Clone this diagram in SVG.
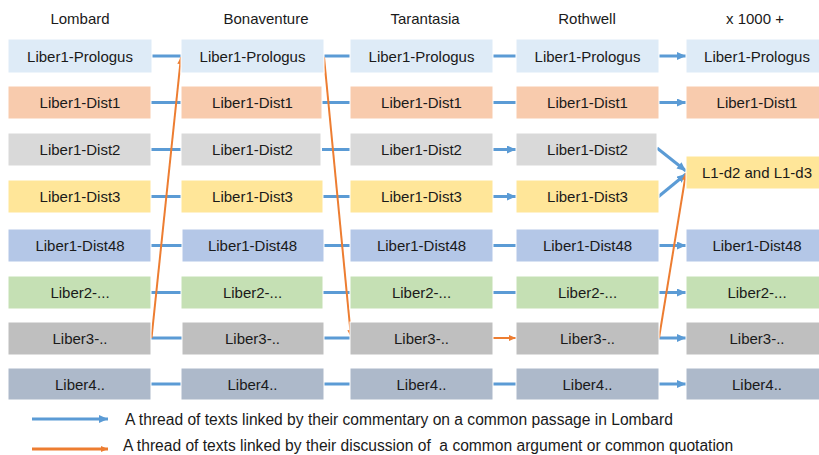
<svg xmlns="http://www.w3.org/2000/svg" width="819" height="455" viewBox="0 0 819 455">
  <style>
    text { font-family: "Liberation Sans", Arial, sans-serif; font-size: 15px; fill: #1a1a1a; }
    .hdr { text-anchor: middle; }
    .lbl { text-anchor: middle; }
    .leg { font-size: 15.6px; }
    .box { stroke: #ffffff; stroke-width: 1; }
    .r1 { fill: #DEEBF7; } .r2 { fill: #F8CBAD; } .r3 { fill: #D9D9D9; } .r4 { fill: #FFE699; }
    .r5 { fill: #B4C7E7; } .r6 { fill: #C5E0B4; } .r7 { fill: #BFBFBF; } .r8 { fill: #ADB9CA; }
    .blue { stroke: #5B9BD5; stroke-width: 3; fill: none; }
    .orange { stroke: #ED7D31; stroke-width: 2; fill: none; }
    .bh { marker-end: url(#headBlue); }
    .oh { marker-end: url(#headOrange); }
  </style>
  <defs>
    <marker id="headBlue" markerUnits="userSpaceOnUse" markerWidth="9" markerHeight="8" refX="9" refY="4" orient="auto">
      <path d="M0,0 L9,4 L0,8 z" fill="#5B9BD5"/>
    </marker>
    <marker id="headOrange" markerUnits="userSpaceOnUse" markerWidth="7" markerHeight="6" refX="7" refY="3" orient="auto">
      <path d="M0,0 L7,3 L0,6 z" fill="#ED7D31"/>
    </marker>
  </defs>
  <rect width="819" height="455" fill="#ffffff"/>

  <!-- column headers -->
  <g id="headers">
    <text class="hdr" x="80" y="24">Lombard</text>
    <text class="hdr" x="266" y="24">Bonaventure</text>
    <text class="hdr" x="425" y="24">Tarantasia</text>
    <text class="hdr" x="587" y="24">Rothwell</text>
    <text class="hdr" x="755" y="24">x 1000 +</text>
  </g>

  <!-- connectors -->
  <g id="connectors">
    <!-- row 1 -->
    <line class="blue" x1="151" y1="56" x2="181" y2="56"/>
    <line class="blue" x1="324" y1="56" x2="350" y2="56"/>
    <line class="blue" x1="493" y1="56" x2="516" y2="56"/>
    <line class="blue bh" x1="659" y1="56" x2="686" y2="56"/>
    <!-- row 2 -->
    <line class="blue" x1="151" y1="102.5" x2="181" y2="102.5"/>
    <line class="blue" x1="322" y1="102.5" x2="350" y2="102.5"/>
    <line class="blue" x1="493" y1="102.5" x2="516" y2="102.5"/>
    <line class="blue bh" x1="659" y1="102.5" x2="686" y2="102.5"/>
    <!-- row 3 -->
    <line class="blue" x1="151" y1="149.5" x2="181" y2="149.5"/>
    <line class="blue" x1="322" y1="149.5" x2="350" y2="149.5"/>
    <line class="blue bh" x1="493" y1="149.5" x2="516" y2="149.5"/>
    <line class="blue bh" x1="657" y1="148" x2="686" y2="171"/>
    <!-- row 4 -->
    <line class="blue" x1="151" y1="196.5" x2="181" y2="196.5"/>
    <line class="blue" x1="323" y1="196.5" x2="350" y2="196.5"/>
    <line class="blue bh" x1="493" y1="196.5" x2="516" y2="196.5"/>
    <line class="blue bh" x1="658" y1="197" x2="686" y2="174"/>
    <!-- row 5 -->
    <line class="blue" x1="151" y1="245.5" x2="182" y2="245.5"/>
    <line class="blue" x1="324" y1="245.5" x2="350" y2="245.5"/>
    <line class="blue" x1="493" y1="245.5" x2="516" y2="245.5"/>
    <line class="blue bh" x1="659" y1="245.5" x2="686" y2="245.5"/>
    <!-- row 6 -->
    <line class="blue" x1="151" y1="292.5" x2="181" y2="292.5"/>
    <line class="blue" x1="323" y1="292.5" x2="350" y2="292.5"/>
    <line class="blue" x1="493" y1="292.5" x2="516" y2="292.5"/>
    <line class="blue bh" x1="659" y1="292.5" x2="686" y2="292.5"/>
    <!-- row 7 -->
    <line class="blue" x1="151" y1="338" x2="182" y2="338"/>
    <line class="blue" x1="324" y1="338" x2="350" y2="338"/>
    <line class="blue bh" x1="659" y1="338" x2="686" y2="338"/>
    <!-- row 8 -->
    <line class="blue" x1="151" y1="384" x2="181" y2="384"/>
    <line class="blue" x1="324" y1="384" x2="350" y2="384"/>
    <line class="blue" x1="493" y1="384" x2="516" y2="384"/>
    <line class="blue bh" x1="659" y1="384" x2="686" y2="384"/>

    <!-- argument / quotation threads -->
    <line class="orange oh" x1="151.5" y1="338" x2="181" y2="57"/>
    <line class="orange oh" x1="324" y1="57" x2="351" y2="337"/>
    <line class="orange oh" x1="493" y1="338" x2="516" y2="338"/>
    <line class="orange oh" x1="659" y1="338" x2="686" y2="173"/>
  </g>

  <!-- Lombard -->
  <g id="lombard">
    <rect class="box r1" x="8" y="39" width="144" height="34"/><text class="lbl" x="80" y="62">Liber1-Prologus</text>
    <rect class="box r2" x="8" y="86" width="143" height="33"/><text class="lbl" x="80" y="108">Liber1-Dist1</text>
    <rect class="box r3" x="8" y="133" width="143" height="33"/><text class="lbl" x="80" y="155">Liber1-Dist2</text>
    <rect class="box r4" x="8" y="180" width="143" height="33"/><text class="lbl" x="80" y="202">Liber1-Dist3</text>
    <rect class="box r5" x="8" y="229" width="143" height="33"/><text class="lbl" x="80" y="251">Liber1-Dist48</text>
    <rect class="box r6" x="8" y="276" width="143" height="33"/><text class="lbl" x="80" y="298">Liber2-...</text>
    <rect class="box r7" x="8" y="322" width="143" height="33"/><text class="lbl" x="80" y="344">Liber3-..</text>
    <rect class="box r8" x="8" y="368" width="143" height="32"/><text class="lbl" x="80" y="390">Liber4..</text>
  </g>

  <!-- Bonaventure -->
  <g id="bonaventure">
    <rect class="box r1" x="181" y="39" width="143" height="34"/><text class="lbl" x="252.5" y="62">Liber1-Prologus</text>
    <rect class="box r2" x="181" y="86" width="141" height="33"/><text class="lbl" x="252.5" y="108">Liber1-Dist1</text>
    <rect class="box r3" x="181" y="133" width="140" height="33"/><text class="lbl" x="252.5" y="155">Liber1-Dist2</text>
    <rect class="box r4" x="181" y="180" width="142" height="33"/><text class="lbl" x="252.5" y="202">Liber1-Dist3</text>
    <rect class="box r5" x="182" y="229" width="142" height="33"/><text class="lbl" x="252.5" y="251">Liber1-Dist48</text>
    <rect class="box r6" x="181" y="276" width="142" height="33"/><text class="lbl" x="252.5" y="298">Liber2-...</text>
    <rect class="box r7" x="182" y="322" width="142" height="33"/><text class="lbl" x="252.5" y="344">Liber3-..</text>
    <rect class="box r8" x="181" y="368" width="143" height="32"/><text class="lbl" x="252.5" y="390">Liber4..</text>
  </g>

  <!-- Tarantasia -->
  <g id="tarantasia">
    <rect class="box r1" x="350" y="39" width="143" height="34"/><text class="lbl" x="421.5" y="62">Liber1-Prologus</text>
    <rect class="box r2" x="350" y="86" width="143" height="33"/><text class="lbl" x="421.5" y="108">Liber1-Dist1</text>
    <rect class="box r3" x="350" y="133" width="143" height="33"/><text class="lbl" x="421.5" y="155">Liber1-Dist2</text>
    <rect class="box r4" x="350" y="180" width="143" height="33"/><text class="lbl" x="421.5" y="202">Liber1-Dist3</text>
    <rect class="box r5" x="350" y="229" width="143" height="33"/><text class="lbl" x="421.5" y="251">Liber1-Dist48</text>
    <rect class="box r6" x="350" y="276" width="143" height="33"/><text class="lbl" x="421.5" y="298">Liber2-...</text>
    <rect class="box r7" x="350" y="322" width="143" height="33"/><text class="lbl" x="421.5" y="344">Liber3-..</text>
    <rect class="box r8" x="350" y="368" width="143" height="32"/><text class="lbl" x="421.5" y="390">Liber4..</text>
  </g>

  <!-- Rothwell -->
  <g id="rothwell">
    <rect class="box r1" x="516" y="39" width="143" height="34"/><text class="lbl" x="587.5" y="62">Liber1-Prologus</text>
    <rect class="box r2" x="516" y="86" width="143" height="33"/><text class="lbl" x="587.5" y="108">Liber1-Dist1</text>
    <rect class="box r3" x="516" y="133" width="141" height="33"/><text class="lbl" x="587.5" y="155">Liber1-Dist2</text>
    <rect class="box r4" x="516" y="180" width="143" height="33"/><text class="lbl" x="587.5" y="202">Liber1-Dist3</text>
    <rect class="box r5" x="516" y="229" width="143" height="33"/><text class="lbl" x="587.5" y="251">Liber1-Dist48</text>
    <rect class="box r6" x="516" y="276" width="143" height="33"/><text class="lbl" x="587.5" y="298">Liber2-...</text>
    <rect class="box r7" x="516" y="322" width="143" height="33"/><text class="lbl" x="587.5" y="344">Liber3-..</text>
    <rect class="box r8" x="516" y="368" width="143" height="32"/><text class="lbl" x="587.5" y="390">Liber4..</text>
  </g>

  <!-- x 1000 + -->
  <g id="many">
    <rect class="box r1" x="686" y="39" width="142" height="34"/><text class="lbl" x="757" y="62">Liber1-Prologus</text>
    <rect class="box r2" x="686" y="86" width="142" height="33"/><text class="lbl" x="757" y="108">Liber1-Dist1</text>
    <rect class="box r4" x="686" y="156" width="142" height="33"/><text class="lbl" x="757" y="178">L1-d2 and L1-d3</text>
    <rect class="box r5" x="686" y="229" width="142" height="33"/><text class="lbl" x="757" y="251">Liber1-Dist48</text>
    <rect class="box r6" x="686" y="276" width="142" height="33"/><text class="lbl" x="757" y="298">Liber2-...</text>
    <rect class="box r7" x="686" y="322" width="142" height="33"/><text class="lbl" x="757" y="344">Liber3-..</text>
    <rect class="box r8" x="686" y="368" width="142" height="32"/><text class="lbl" x="757" y="390">Liber4..</text>
  </g>

  <!-- legend -->
  <g id="legend">
    <line class="blue bh" x1="32" y1="419" x2="108" y2="419"/>
    <text class="leg" x="125" y="425">A thread of texts linked by their commentary on a common passage in Lombard</text>
    <line class="orange oh" x1="32" y1="449" x2="108" y2="449" style="stroke-width:3"/>
    <text class="leg" x="123" y="451" xml:space="preserve">A thread of texts linked by their discussion of  a common argument or common quotation</text>
  </g>
</svg>
